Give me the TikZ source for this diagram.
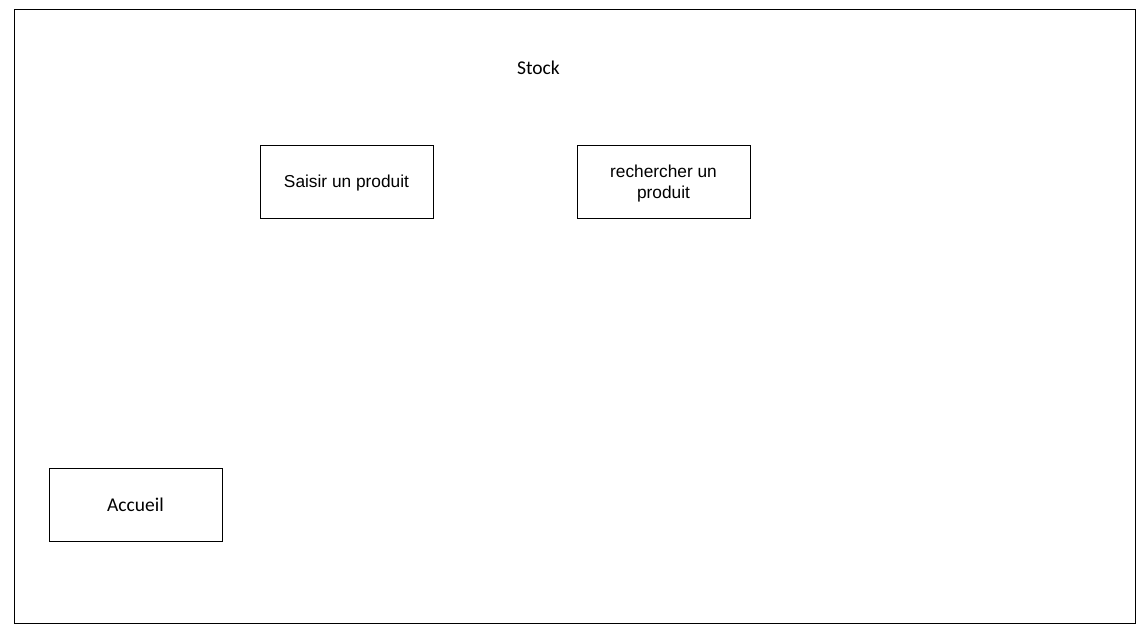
\documentclass[tikz,border=0pt]{standalone}
\usepackage{fontspec}
\setmainfont{Liberation Sans}
\newfontfamily\calfont{Carlito}

\begin{document}
\begin{tikzpicture}
    [x = 1pt, y = -1pt, line width = 1pt,
     page/.style = {draw = none, font = \calfont\fontsize{19.5}{23}\selectfont},
     screen/.style = {rectangle, draw = black, minimum width = 173pt, minimum height = 73pt,
                      inner sep = 0pt, text depth = 0pt, align = center,
                      font = \fontsize{17.3}{21}\selectfont}]
    \useasboundingbox (0,0) rectangle (1140,632);
    \draw (14.5,9.5) rectangle (1135.5,623.5);

    \node[page] (stock) at (538.5,67.5) {Stock};
    \node[screen] (saisir) at (346.5,181.5) {Saisir un produit};
    \node[screen] (rechercher) at (663.5,181.5) {rechercher un\\produit};
    \node[screen, font = \calfont\fontsize{19.5}{23}\selectfont] (accueil) at (135.5,504.5) {Accueil};
  \end{tikzpicture}
\end{document}
